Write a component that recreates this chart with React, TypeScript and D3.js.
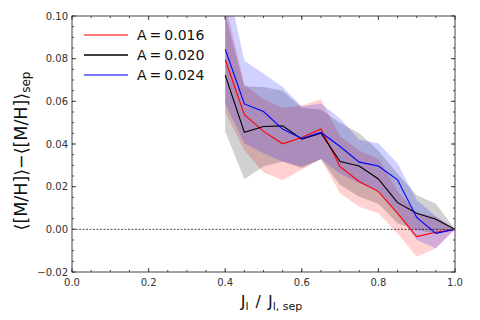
import React from 'react';
import * as d3 from 'd3';

const xs = [0.4, 0.45, 0.5, 0.55, 0.6, 0.65, 0.7, 0.75, 0.8, 0.85, 0.9, 0.95, 1.0];

const redMean = [0.0795, 0.0537, 0.0459, 0.0401, 0.043, 0.047, 0.0294, 0.0224, 0.0177, 0.0075, -0.0034, -0.0014, 0];
const redLow = [0.055, 0.037, 0.0266, 0.023, 0.028, 0.033, 0.0169, 0.0106, 0.0075, -0.0019, -0.0128, -0.0089, 0];
const redHigh = [0.106, 0.068, 0.061, 0.057, 0.058, 0.061, 0.0435, 0.037, 0.033, 0.018, 0.0075, 0.006, 0];

const blackMean = [0.0723, 0.0455, 0.0482, 0.0485, 0.0423, 0.0451, 0.0318, 0.0297, 0.0236, 0.0125, 0.0075, 0.0047, 0];
const blackLow = [0.0459, 0.0235, 0.0294, 0.0318, 0.0286, 0.0329, 0.0208, 0.0153, 0.012, 0.0028, -0.0003, -0.0019, 0];
const blackHigh = [0.101, 0.067, 0.0667, 0.065, 0.057, 0.056, 0.0498, 0.045, 0.037, 0.026, 0.016, 0.012, 0];

const blueMean = [0.0845, 0.0588, 0.0552, 0.047, 0.0426, 0.0454, 0.0388, 0.0315, 0.0297, 0.0232, 0.0056, -0.0019, 0];
const blueLow = [0.059, 0.0404, 0.0357, 0.0318, 0.0294, 0.033, 0.026, 0.0216, 0.018, 0.0075, -0.005, -0.0089, 0];
const blueHigh = [0.12, 0.079, 0.073, 0.0667, 0.0576, 0.059, 0.052, 0.042, 0.0404, 0.031, 0.0138, 0.006, 0];

const series = [
  { label: '0.016', color: '#ff0000', mean: redMean, low: redLow, high: redHigh },
  { label: '0.020', color: '#000000', mean: blackMean, low: blackLow, high: blackHigh },
  { label: '0.024', color: '#0000ff', mean: blueMean, low: blueLow, high: blueHigh },
];

const xTicks = [0, 0.2, 0.4, 0.6, 0.8, 1.0];
const yTicks = [-0.02, 0, 0.02, 0.04, 0.06, 0.08, 0.1];

const W = 480;
const H = 320;
const margin = { top: 16, right: 25, bottom: 48, left: 72 };
const font = 'DejaVu Sans, sans-serif';

export default function App() {
  const iw = W - margin.left - margin.right;
  const ih = H - margin.top - margin.bottom;
  const x = d3.scaleLinear().domain([0, 1]).range([0, iw]);
  const y = d3.scaleLinear().domain([-0.02, 0.1]).range([ih, 0]);

  const line = d3.line<number>().x((_, i) => x(xs[i])).y(d => y(d));

  const xMinor = d3.range(0, 1.0001, 0.05);
  const yMinor = d3.range(-0.02, 0.10001, 0.005);

  const tickCol = '#444';

  return (
    <svg width={W} height={H} style={{ position: 'absolute', left: 0, top: 0, fontFamily: font }}>
      <defs>
        <clipPath id="plot">
          <rect x={0} y={0} width={iw} height={ih} />
        </clipPath>
      </defs>
      <rect width={W} height={H} fill="#fff" />
      <g transform={`translate(${margin.left},${margin.top})`}>
        <g clipPath="url(#plot)">
          {series.map(s => {
            const area = d3.area<number>()
              .x((_, i) => x(xs[i]))
              .y0((_, i) => y(s.low[i]))
              .y1((_, i) => y(s.high[i]));
            return <path key={s.label + 'band'} d={area(s.mean) || ''} fill={s.color} fillOpacity={0.18} stroke="none" />;
          })}
          <line x1={0} x2={iw} y1={y(0)} y2={y(0)} stroke="#000" strokeWidth={0.7} strokeDasharray="2,1.5" />
          {series.map(s => (
            <path key={s.label} d={line(s.mean) || ''} fill="none" stroke={s.color} strokeWidth={1.1} />
          ))}
        </g>

        {/* frame */}
        <rect x={0} y={0} width={iw} height={ih} fill="none" stroke={tickCol} strokeWidth={1} />

        {/* minor ticks */}
        {xMinor.map(v => (
          <g key={'xm' + v}>
            <line x1={x(v)} x2={x(v)} y1={ih} y2={ih - 2} stroke={tickCol} />
            <line x1={x(v)} x2={x(v)} y1={0} y2={2} stroke={tickCol} />
          </g>
        ))}
        {yMinor.map(v => (
          <g key={'ym' + v}>
            <line x1={0} x2={2} y1={y(v)} y2={y(v)} stroke={tickCol} />
            <line x1={iw} x2={iw - 2} y1={y(v)} y2={y(v)} stroke={tickCol} />
          </g>
        ))}

        {/* major ticks */}
        {xTicks.map(v => (
          <g key={'x' + v}>
            <line x1={x(v)} x2={x(v)} y1={ih} y2={ih - 4} stroke={tickCol} />
            <line x1={x(v)} x2={x(v)} y1={0} y2={4} stroke={tickCol} />
            <text x={x(v)} y={ih + 14} textAnchor="middle" fontSize={10} fill="#333">{d3.format('.1f')(v)}</text>
          </g>
        ))}
        {yTicks.map(v => (
          <g key={'y' + v}>
            <line x1={0} x2={4} y1={y(v)} y2={y(v)} stroke={tickCol} />
            <line x1={iw} x2={iw - 4} y1={y(v)} y2={y(v)} stroke={tickCol} />
            <text x={-4} y={y(v) + 3.5} textAnchor="end" fontSize={10} fill="#333">
              {d3.format('.2f')(v).replace('-', '\u2212')}
            </text>
          </g>
        ))}

        {/* legend */}
        {series.map((s, i) => (
          <g key={'lg' + s.label} transform={`translate(12,${19 + i * 20})`}>
            <line x1={0} x2={44} y1={0} y2={0} stroke={s.color} strokeOpacity={s.color === '#000000' ? 1 : 0.7} strokeWidth={1.3} />
            <text x={53} y={5} fontSize={14} fill="#111">
              A<tspan dx={3}>=</tspan><tspan dx={3}>{s.label}</tspan>
            </text>
          </g>
        ))}

        {/* axis labels */}
        <text x={iw / 2 + 8} y={ih + 35} textAnchor="middle" fontSize={16} fill="#111">
          J<tspan fontSize={11} dy={3}>l</tspan>
          <tspan dy={-3} dx={7}>/</tspan>
          <tspan dx={7}>J</tspan>
          <tspan fontSize={11} dy={3}>l, sep</tspan>
        </text>
        <text transform={`translate(${-45},${135}) rotate(-90)`} textAnchor="middle" fontSize={17.5} fill="#111">
          ⟨[M/H]⟩−⟨[M/H]⟩<tspan fontSize={12} dy={3}>sep</tspan>
        </text>
      </g>
    </svg>
  );
}
